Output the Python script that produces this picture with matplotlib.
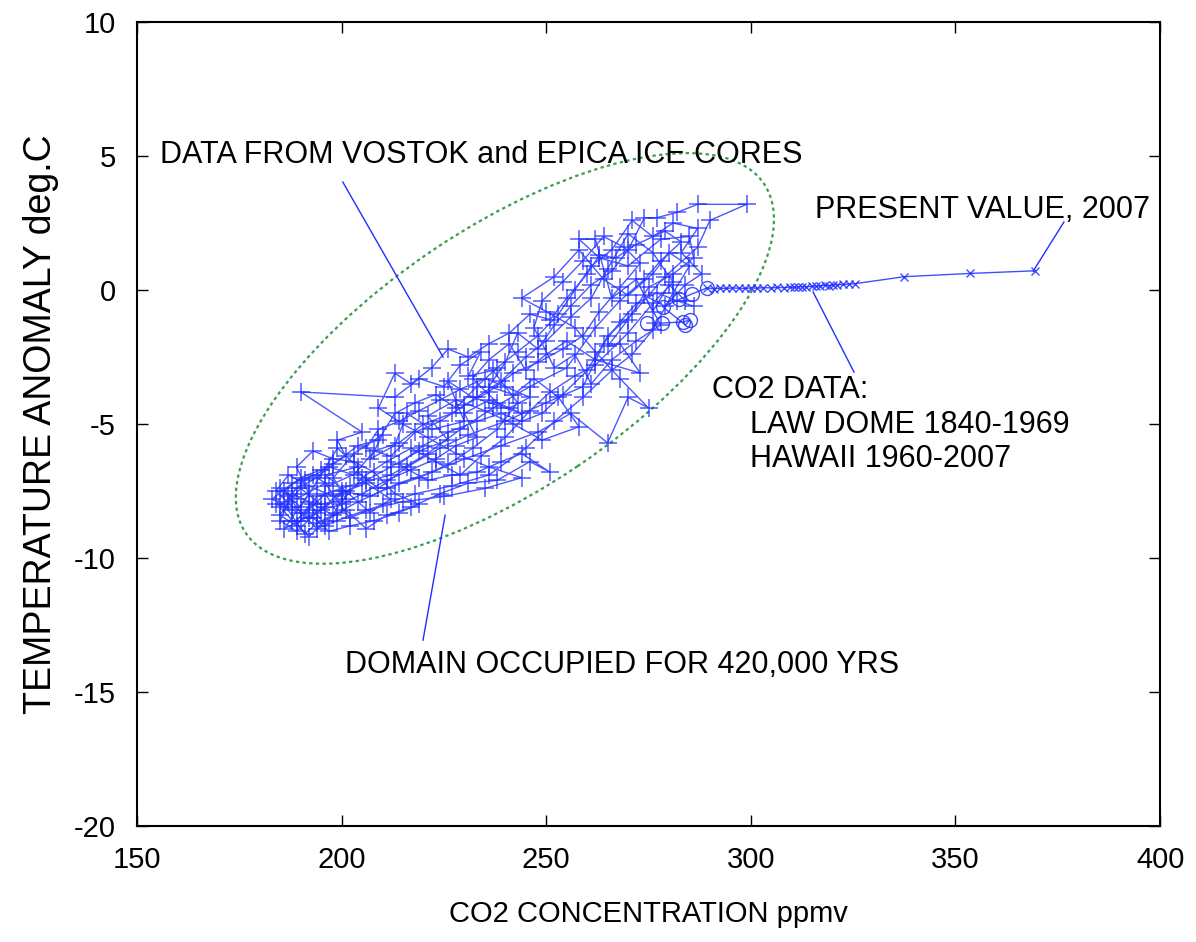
import matplotlib
matplotlib.use("Agg")
import matplotlib.pyplot as plt
from matplotlib.patches import Ellipse
from matplotlib.transforms import ScaledTranslation

plt.rcParams['font.family'] = ['Liberation Sans', 'DejaVu Sans']
plt.rcParams['axes.unicode_minus'] = False

# Vostok / EPICA ice core record (CO2 ppmv, temperature anomaly deg C), in time order
ice_co2 = [
    284, 280, 276, 272, 266, 262, 258, 263, 270, 278, 285, 286, 281, 275, 270, 265, 268, 273, 262, 255,
    250, 245, 241, 236, 232, 238, 244, 232, 226, 230, 222, 216, 213, 207, 210, 203, 198, 201, 195, 190,
    187, 185, 189, 192, 196, 199, 194, 191, 186, 183, 188, 193, 197, 204, 209, 216, 224, 231, 240, 250,
    259, 265, 271, 279, 287, 290, 299, 287, 282, 277, 274,
    270, 266, 261, 256, 252, 248, 243, 240, 236, 242, 247, 253, 258, 249, 242, 235, 228, 221, 226, 219,
    212, 206, 200, 196, 192, 188, 184, 186, 190, 195, 201, 199, 205, 190, 213, 219, 225, 229, 234, 231,
    237, 243, 238, 232, 226, 219, 211, 204, 198, 193, 189, 194, 202, 212, 221, 229, 237, 246, 255, 262,
    268, 274, 278, 283, 279, 272, 267, 263,
    260, 255, 251, 246, 241, 236, 231, 226, 222, 217, 213, 209, 215, 221, 228, 236, 244, 235, 225, 215,
    206, 199, 194, 190, 187, 191, 197, 203, 208, 214, 220, 227, 233, 239, 245, 250, 256, 261, 265, 270,
    276, 281, 276, 270, 262, 257,
    251, 246, 240, 234, 229, 223, 217, 211, 205, 200, 196, 192, 188, 185, 189, 194, 200, 207, 214, 222,
    230, 239, 248, 256, 265, 270, 275, 268, 262, 257, 250, 244, 252, 258, 264, 270, 276, 280, 285, 281,
    276, 271, 266, 259, 252, 245, 236, 227, 218, 210, 202, 196, 189, 185, 190,
    199, 204, 196, 201, 207, 212, 206, 198, 192, 187, 184, 188, 193, 197, 202, 208, 214, 219, 213, 208,
    203, 198, 193, 189, 192, 186, 190, 195, 200, 205, 211, 217, 223, 228, 233, 230, 236, 241, 246, 240,
    235, 229, 224, 219, 214, 209, 206, 212, 218, 224, 230, 236, 242, 248, 254, 259, 263, 268, 273, 269,
    264, 259, 254, 249, 247, 252, 257, 261, 266, 272, 278, 274, 279, 284, 288, 283, 287, 281, 276, 271,
    266, 261, 257, 253, 248, 243, 238, 233, 228, 223, 218, 213, 209, 204, 198, 194, 189, 185, 188, 192,
    196, 201, 206, 211, 217, 224, 231, 238, 246, 251, 244, 239, 233, 227, 221, 214, 220, 226, 233, 239,
    244, 249, 254, 260, 264, 268, 272, 277, 282, 286,
]
ice_temp = [
    -0.4, 0.2, -0.8, 0.4, -0.3, 1.9, 1.9, 1.2, 0.9, 1.9, 2.0, 1.2, 0.6, 0.1, -1.1, -2.1, -2.0, -3.1, -2.6, -1.9,
    -2.4, -3.0, -2.0, -2.6, -3.3, -4.2, -4.6, -4.0, -3.4, -4.9, -5.2, -4.6, -5.8, -6.3, -5.4, -6.1, -7.0, -7.8, -8.0, -7.4,
    -7.9, -8.4, -8.8, -8.2, -7.6, -8.3, -8.7, -9.1, -8.0, -7.8, -7.2, -6.9, -7.3, -6.8, -7.4, -6.6, -5.9, -5.4, -4.9, -4.2,
    -3.6, -1.7, -0.9, 0.5, 1.6, 2.6, 3.2, 3.2, 2.9, 2.7, 2.7,
    1.5, 0.7, 0.2, -0.6, -1.3, -2.2, -1.6, -2.7, -3.6, -3.9, -3.3, -4.0, -5.1, -5.6, -5.0, -4.5, -4.1, -4.7, -5.6, -6.0,
    -6.6, -7.1, -7.6, -8.1, -8.5, -8.2, -8.0, -7.5, -7.0, -6.7, -6.2, -5.6, -5.3, -3.8, -4.0, -3.3, -3.6, -2.8, -2.3, -3.2,
    -3.0, -4.2, -5.2, -5.9, -6.5, -7.0, -7.4, -7.9, -8.4, -8.0, -8.6, -7.7, -7.3, -6.9, -6.1, -5.2, -4.4, -3.6, -2.9, -1.4,
    -0.4, 0.4, 1.1, 1.8, 2.2, 1.7, 1.2, 1.3,
    0.6, -0.3, -1.1, -0.9, -1.6, -2.0, -2.5, -2.2, -2.9, -3.5, -3.1, -4.4, -5.0, -5.5, -6.1, -6.6, -7.0, -7.4, -7.7, -7.9,
    -8.2, -8.6, -8.9, -8.3, -7.7, -7.1, -6.6, -6.9, -6.0, -5.7, -5.0, -4.6, -4.0, -3.4, -2.5, -1.9, -1.0, -0.3, 0.8, 2.1,
    1.4, 0.3, -0.5, -1.6, -2.8, -3.2,
    -3.8, -4.5, -5.5, -6.2, -6.9, -6.4, -5.9, -6.4, -7.0, -7.9, -8.8, -7.9, -7.6, -8.6, -9.0, -8.3, -7.5, -7.7, -7.2, -6.8,
    -6.3, -5.8, -5.3, -4.6, -5.7, -4.0, -4.4, -3.3, -2.3, -1.4, -0.8, -0.3, 0.5, 1.5, 0.4, -0.2, 0.6, 1.4, 0.9, -0.1,
    -1.5, -2.4, -3.0, -4.0, -4.9, -5.9, -6.9, -7.3, -7.6, -8.0, -8.5, -7.2, -7.8, -7.4, -8.1,
    -5.9, -6.6, -6.9, -7.5, -8.3, -7.8, -7.2, -7.7, -7.3, -6.9, -7.5, -8.1, -8.5, -9.0, -8.8, -8.6, -8.3, -8.0, -7.6, -6.8,
    -6.4, -6.3, -6.0, -6.6, -7.6, -8.9, -8.6, -8.2, -8.0, -7.6, -7.1, -6.7, -6.3, -5.8, -5.5, -4.6, -4.1, -4.4, -4.0, -3.6,
    -3.3, -3.7, -4.1, -4.5, -4.9, -5.2, -5.9, -6.2, -5.3, -4.9, -4.3, -3.8, -3.1, -2.7, -2.2, -1.7, -0.8, 0.1, 1.0, 1.6,
    2.0, 1.1, 0.3, -0.4, -1.4, -2.9, -2.4, -3.5, -2.6, -1.9, -1.3, -0.2, -0.6, 0.2, 0.6, 1.4, 2.3, 2.5, 2.0, 2.6,
    1.5, 0.9, 0.0, -0.9, -1.7, -2.3, -2.9, -3.6, -4.4, -3.9, -4.2, -4.6, -5.6, -5.8, -6.5, -7.0, -7.4, -8.1, -8.6, -9.2,
    -8.6, -8.2, -8.9, -8.4, -8.1, -7.6, -7.2, -7.1, -6.4, -6.8, -6.1, -6.4, -6.8, -6.9, -7.1, -6.5, -5.8, -5.3, -4.9, -4.6,
    -4.9, -4.6, -3.9, -3.0, -2.0, -1.2, -0.5, -0.1, -0.4, -0.6,
]

# Law Dome 1840-1969 (circles) and Hawaii 1960-2007 (crosses)
lawdome_co2 = [274.6, 278.3, 283.4, 285.1, 284.0, 278.5, 282.5, 285.5, 289.3]
lawdome_temp = [-1.23, -1.23, -1.19, -1.12, -1.30, -0.63, -0.35, -0.15, 0.08]
recent_co2 = [289.3, 291.0, 292.5, 294.0, 295.5, 297.0, 298.5, 300.0, 301.5, 303.0, 305.0, 306.5,
              308.0, 309.5, 310.5, 311.5, 312.5, 313.5, 315.0, 316.0, 317.0, 318.0, 319.0, 320.0,
              321.0, 322.5, 324.0, 325.5, 337.5, 353.5, 369.5]
recent_temp = [0.08, 0.05, 0.07, 0.06, 0.08, 0.07, 0.06, 0.08, 0.07, 0.09, 0.08, 0.10,
               0.09, 0.11, 0.10, 0.12, 0.13, 0.12, 0.14, 0.15, 0.16, 0.18, 0.17, 0.19,
               0.20, 0.21, 0.22, 0.24, 0.50, 0.62, 0.72]

blue = '#1f2fff'

fig = plt.figure(figsize=(11.96, 9.42), dpi=100)
ax = fig.add_axes([0.1145, 0.123, 0.8555, 0.8536])

ax.plot(ice_co2, ice_temp, color=blue, lw=1.0, alpha=0.8, marker='+', ms=13, mew=1.1)
ax.plot(recent_co2, recent_temp, color=blue, lw=1.0, alpha=0.85, marker='x', ms=6, mew=1.0)
ax.plot(lawdome_co2, lawdome_temp, color=blue, lw=1.0, alpha=0.85, marker='o', ms=10, mew=1.0,
        mfc='none')

# domain ellipse, drawn in inches around a data-space centre
ell = Ellipse((0, 0), 6.25, 2.6, angle=34.0, fill=False, ec='#3d9c50', lw=1.6,
              ls=(0, (1.5, 1.5)),
              transform=fig.dpi_scale_trans + ScaledTranslation(239.9, -2.55, ax.transData))
ax.add_patch(ell)

# annotations
fs = 22
ax.text(155.6, 5.04, 'DATA FROM VOSTOK and EPICA ICE CORES', fontsize=fs, va='center')
ax.plot([200.3, 224.8], [4.03, -2.5], color=blue, lw=1.0)
ax.text(315.7, 2.99, 'PRESENT VALUE, 2007', fontsize=fs, va='center')
ax.plot([369.0, 376.5], [0.71, 2.54], color=blue, lw=1.0)
ax.text(290.5, -3.73, 'CO2 DATA:', fontsize=fs, va='center')
ax.text(299.8, -5.04, 'LAW DOME 1840-1969', fontsize=fs, va='center')
ax.text(299.8, -6.31, 'HAWAII 1960-2007', fontsize=fs, va='center')
ax.plot([315.2, 325.2], [-0.07, -3.06], color=blue, lw=1.0)
ax.text(200.8, -13.99, 'DOMAIN OCCUPIED FOR 420,000 YRS', fontsize=fs, va='center')
ax.plot([225.3, 219.9], [-8.4, -13.06], color=blue, lw=1.0)

ax.set_xlim(150, 400)
ax.set_ylim(-20, 10)
ax.set_xticks([150, 200, 250, 300, 350, 400])
ax.set_yticks([-20, -15, -10, -5, 0, 5, 10])
ax.tick_params(direction='in', length=8, width=1, top=True, right=True, labelsize=21)
ax.tick_params(axis='x', pad=14)
ax.tick_params(axis='y', pad=15)
for s in ax.spines.values():
    s.set_linewidth(1.5)

ax.set_xlabel('CO2 CONCENTRATION ppmv', fontsize=21, labelpad=19)
ax.set_ylabel('TEMPERATURE ANOMALY deg.C', fontsize=27, labelpad=11)

fig.savefig('out.png', dpi=100)
